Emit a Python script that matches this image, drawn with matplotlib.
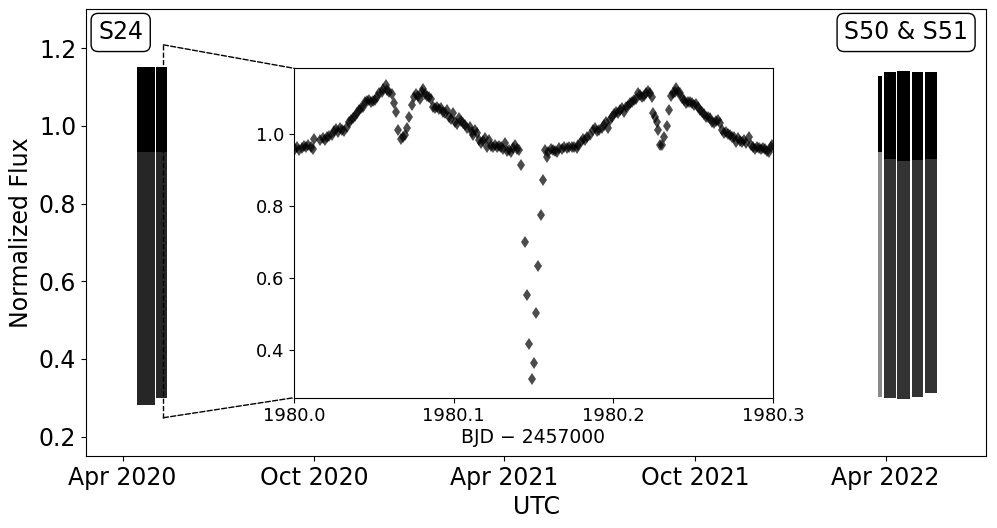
import matplotlib
matplotlib.use("Agg")
import matplotlib.pyplot as plt
import matplotlib.dates as mdates
from matplotlib.patches import ConnectionPatch
import numpy as np

# TESS segments seen in the main panel (start, end, lowest flux, highest flux, lower edge of dense part)
seg_start = ["2020-04-15", "2020-05-03", "2022-03-25", "2022-03-30", "2022-04-12", "2022-04-26", "2022-05-09"]
seg_end = ["2020-05-02", "2020-05-13", "2022-03-28", "2022-04-11", "2022-04-24", "2022-05-07", "2022-05-20"]
seg_low = [0.282, 0.300, 0.303, 0.300, 0.297, 0.303, 0.313]
seg_high = [1.152, 1.152, 1.129, 1.138, 1.140, 1.138, 1.138]
seg_dense = [0.932, 0.932, 0.932, 0.914, 0.910, 0.912, 0.914]
seg_lower_color = ["#262626", "#262626", "#8a8a8a", "#333333", "#333333", "#333333", "#333333"]

sector_labels = ["S24", "S50 & S51"]

# zoomed light curve (BJD - 2457000)
inset_bjd = [
    1980.0006, 1980.0021, 1980.0033, 1980.0048, 1980.0063, 1980.0075, 1980.0090, 1980.0104, 1980.0117, 1980.0127,
    1980.0163, 1980.0180, 1980.0194, 1980.0209, 1980.0221, 1980.0236, 1980.0251, 1980.0263, 1980.0278, 1980.0288,
    1980.0303, 1980.0315, 1980.0330, 1980.0342, 1980.0355, 1980.0372, 1980.0384, 1980.0397, 1980.0409, 1980.0422,
    1980.0434, 1980.0447, 1980.0459, 1980.0472, 1980.0484, 1980.0497, 1980.0509, 1980.0522, 1980.0534, 1980.0549,
    1980.0560, 1980.0574, 1980.0585, 1980.0597, 1980.0612, 1980.0626, 1980.0639, 1980.0653, 1980.0668, 1980.0685,
    1980.0697, 1980.0710, 1980.0722, 1980.0737, 1980.0752, 1980.0764, 1980.0777, 1980.0789, 1980.0802, 1980.0810,
    1980.0823, 1980.0835, 1980.0848, 1980.0860, 1980.0873, 1980.0885, 1980.0898, 1980.0910, 1980.0923, 1980.0935,
    1980.0948, 1980.0960, 1980.0973, 1980.0985, 1980.0998, 1980.1010, 1980.1023, 1980.1036, 1980.1048, 1980.1061,
    1980.1073, 1980.1086, 1980.1102, 1980.1113, 1980.1123, 1980.1136, 1980.1148, 1980.1161, 1980.1173, 1980.1186,
    1980.1198, 1980.1211, 1980.1223, 1980.1236, 1980.1248, 1980.1261, 1980.1273, 1980.1286, 1980.1299, 1980.1311,
    1980.1324, 1980.1336, 1980.1349, 1980.1361, 1980.1374, 1980.1386, 1980.1399, 1980.1407, 1980.1420,
    1980.1447, 1980.1461, 1980.1474, 1980.1489, 1980.1501, 1980.1516, 1980.1530, 1980.1545, 1980.1558,
    1980.1572, 1980.1582, 1980.1593, 1980.1608, 1980.1620, 1980.1635, 1980.1649, 1980.1662, 1980.1676, 1980.1691,
    1980.1708, 1980.1724, 1980.1739, 1980.1754, 1980.1770, 1980.1781, 1980.1795, 1980.1808, 1980.1822, 1980.1837,
    1980.1854, 1980.1871, 1980.1885, 1980.1900, 1980.1912, 1980.1927, 1980.1942, 1980.1954, 1980.1969, 1980.1979,
    1980.1992, 1980.2004, 1980.2017, 1980.2029, 1980.2042, 1980.2054, 1980.2067, 1980.2079, 1980.2092, 1980.2104,
    1980.2117, 1980.2129, 1980.2142, 1980.2154, 1980.2167, 1980.2180, 1980.2192, 1980.2205, 1980.2217, 1980.2230,
    1980.2240, 1980.2251, 1980.2261, 1980.2271, 1980.2278, 1980.2292, 1980.2303, 1980.2319, 1980.2334, 1980.2349,
    1980.2361, 1980.2372, 1980.2384, 1980.2393, 1980.2405, 1980.2418, 1980.2430, 1980.2443, 1980.2455, 1980.2468,
    1980.2480, 1980.2493, 1980.2505, 1980.2518, 1980.2530, 1980.2543, 1980.2555, 1980.2568, 1980.2580, 1980.2593,
    1980.2605, 1980.2618, 1980.2631, 1980.2643, 1980.2656, 1980.2668, 1980.2681, 1980.2693, 1980.2706, 1980.2718,
    1980.2731, 1980.2743, 1980.2756, 1980.2768, 1980.2781, 1980.2793, 1980.2806, 1980.2818, 1980.2831, 1980.2848,
    1980.2860, 1980.2873, 1980.2885, 1980.2898, 1980.2910, 1980.2923, 1980.2935, 1980.2948, 1980.2960, 1980.2973,
    1980.2985, 1980.2994,
]
inset_flux = [
    0.958, 0.9637, 0.9563, 0.961, 0.9675, 0.9637, 0.9702, 0.9637, 0.958, 0.9869,
    0.9841, 0.9888, 0.9841, 0.9916, 0.9953, 0.9981, 1.0101, 1.0138, 1.0073, 1.0166,
    1.012, 1.0101, 1.0212, 1.0351, 1.0398, 1.0444, 1.0509, 1.0583, 1.0676, 1.0722,
    1.0769, 1.0908, 1.0936, 1.0954, 1.0908, 1.0936, 1.0954, 1.1028, 1.114, 1.1186,
    1.1251, 1.1362, 1.1232, 1.1186, 1.1112, 1.0861, 1.0611, 1.012, 0.9869, 0.9916,
    0.9981, 1.0166, 1.049, 1.0815, 1.1047, 1.1112, 1.1065, 1.0972, 1.1186, 1.1251,
    1.1121, 1.1065, 1.1028, 1.0972, 1.075, 1.0722, 1.0769, 1.0695, 1.0722, 1.063,
    1.0583, 1.0676, 1.049, 1.0416, 1.0583, 1.0351, 1.0287, 1.0444, 1.0379, 1.0305,
    1.0259, 1.0166, 1.0212, 1.0073, 0.9981, 1.012, 1.0045, 0.9841, 0.9767, 0.9823,
    0.9888, 0.9656, 0.9841, 0.9675, 0.9637, 0.9702, 0.9637, 0.9675, 0.9637, 0.958,
    0.9749, 0.9545, 0.9563, 0.9517, 0.961, 0.9702, 0.958, 0.9563, 0.9146,
    0.7004, 0.5529, 0.4166, 0.3193, 0.3638, 0.5029, 0.6336, 0.7755, 0.8729,
    0.9563, 0.9378, 0.9517, 0.958, 0.9563, 0.9545, 0.9517, 0.961, 0.958, 0.9637,
    0.961, 0.9656, 0.9637, 0.9637, 0.961, 0.9702, 0.9795, 0.986, 0.9841, 0.9916,
    0.9981, 1.012, 1.0166, 1.0101, 1.012, 1.0166, 1.0259, 1.0351, 1.0166, 1.0398,
    1.049, 1.0565, 1.063, 1.0602, 1.0676, 1.0722, 1.063, 1.0769, 1.0787, 1.0861,
    1.0908, 1.0954, 1.0972, 1.114, 1.1093, 1.1047, 1.1065, 1.114, 1.1214, 1.114,
    1.1028, 1.0602, 1.0472, 1.0351, 1.012, 0.9702, 0.9702, 0.9934, 1.0231, 1.0676,
    1.1065, 1.114, 1.1186, 1.1279, 1.1186, 1.114, 1.1, 1.0954, 1.0879, 1.0908,
    1.0908, 1.0861, 1.0815, 1.0843, 1.0769, 1.0676, 1.063, 1.0565, 1.049, 1.0472,
    1.0444, 1.0351, 1.0305, 1.0379, 1.0398, 1.0305, 1.012, 1.0045, 1.0073, 1.0008,
    0.9981, 0.9934, 0.9916, 0.9795, 0.9888, 0.9823, 0.9795, 0.9841, 0.9767, 0.9916,
    0.9702, 0.9637, 0.958, 0.9637, 0.961, 0.958, 0.961, 0.958, 0.9545, 0.9517,
    0.9637, 0.9702,
]

# where the zoom box sits on the main panel
zoom_date = "2020-05-10"
zoom_low = 0.2485
zoom_high = 1.2085

fig = plt.figure(figsize=(9.97, 5.28), dpi=100)
ax = fig.add_axes([0.0863, 0.1364, 0.9027, 0.846])

starts = mdates.date2num(np.array(seg_start, dtype="datetime64[D]"))
ends = mdates.date2num(np.array(seg_end, dtype="datetime64[D]"))
widths = ends - starts
low = np.array(seg_low)
high = np.array(seg_high)
dense = np.array(seg_dense)

ax.bar(starts, dense - low, width=widths, bottom=low, align="edge",
       color=seg_lower_color, linewidth=0)
ax.bar(starts, high - dense, width=widths, bottom=dense, align="edge",
       color="black", linewidth=0)

ax.set_xlim(mdates.date2num(np.datetime64("2020-02-26")), mdates.date2num(np.datetime64("2022-07-06")))
ax.set_ylim(0.15, 1.3)
ax.xaxis.set_major_locator(mdates.MonthLocator(bymonth=[4, 10]))
ax.xaxis.set_major_formatter(mdates.DateFormatter("%b %Y"))
ax.set_yticks([0.2, 0.4, 0.6, 0.8, 1.0, 1.2])
ax.tick_params(labelsize=17)
ax.set_xlabel("UTC", fontsize=17)
ax.set_ylabel("Normalized Flux", fontsize=17)

box = dict(boxstyle="round,pad=0.3", facecolor="white", edgecolor="black")
ax.text(0.0135, 0.975, sector_labels[0], transform=ax.transAxes, fontsize=17,
        ha="left", va="top", bbox=box)
ax.text(0.98, 0.975, sector_labels[1], transform=ax.transAxes, fontsize=17,
        ha="right", va="top", bbox=box)

# inset
axins = fig.add_axes([0.2949, 0.2468, 0.4804, 0.6238])
axins.plot(inset_bjd, inset_flux, linestyle="none", marker="d", markersize=6.5,
           color="black", alpha=0.7, markeredgewidth=0)
axins.set_xlim(1980.0, 1980.3)
axins.set_ylim(0.267, 1.184)
axins.set_xticks([1980.0, 1980.1, 1980.2, 1980.3])
axins.set_xticklabels(["1980.0", "1980.1", "1980.2", "1980.3"])
axins.set_yticks([0.4, 0.6, 0.8, 1.0])
axins.tick_params(labelsize=13)
axins.set_xlabel("BJD \u2212 2457000", fontsize=13.5, labelpad=2)

# zoom indicator
zx = mdates.date2num(np.datetime64(zoom_date))
ax.plot([zx, zx], [zoom_low, zoom_high], color="black", linestyle="--", linewidth=1)
for yv, corner in [(zoom_high, (0, 1)), (zoom_low, (0, 0))]:
    con = ConnectionPatch(xyA=(zx, yv), coordsA=ax.transData,
                          xyB=corner, coordsB=axins.transAxes,
                          color="black", linestyle="--", linewidth=1)
    fig.add_artist(con)

fig.savefig("out.png", dpi=100)
